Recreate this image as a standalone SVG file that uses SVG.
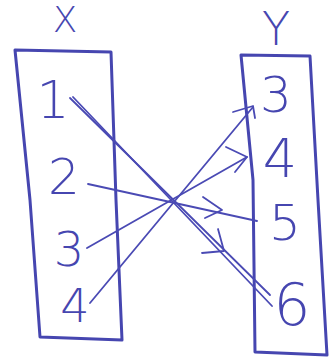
<svg xmlns="http://www.w3.org/2000/svg" width="330" height="359" viewBox="0 0 330 359">
<style>
.box{fill:none;stroke:#4646b0;stroke-width:3;stroke-linejoin:round;stroke-linecap:round}
.ln{fill:none;stroke:#4a4ab4;stroke-width:1.8;stroke-linecap:round;stroke-linejoin:round}
.t{font-family:"DejaVu Sans","Liberation Sans",sans-serif;font-weight:200;fill:#4646b0;text-anchor:middle}
</style>
<rect width="330" height="359" fill="#ffffff"/>
<g id="setX">
<path class="box" d="M15,50 L111,52 L116,200 L122,340 L40,337 L30,200 L15,50 Z"/>
<text class="t" x="65" y="32" font-size="36">X</text>
<text class="t" x="53" y="118" font-size="52">1</text>
<text class="t" x="64" y="194" font-size="50">2</text>
<text class="t" x="69" y="266" font-size="48">3</text>
<text class="t" x="75" y="322" font-size="46">4</text>
</g>
<g id="setY">
<path class="box" d="M241,55 L310,56 L318,200 L327,355 L255,352 L253,180 L241,55 Z"/>
<text class="t" x="276" y="45" font-size="46">Y</text>
<text class="t" x="276" y="112" font-size="50">3</text>
<text class="t" x="280" y="177" font-size="54">4</text>
<text class="t" x="285" y="240" font-size="50">5</text>
<text class="t" x="292" y="325" font-size="58">6</text>
</g>
<g id="connectors">
<line class="ln" x1="70" y1="98" x2="270" y2="295"/>
<line class="ln" x1="73" y1="97" x2="272" y2="306"/>
<polyline class="ln" points="218,229 224,251 202,253"/>
<line class="ln" x1="88" y1="184" x2="257" y2="221"/>
<polyline class="ln" points="203,197 222,210 205,218"/>
<line class="ln" x1="87" y1="248" x2="247" y2="157"/>
<polyline class="ln" points="226,147 247,157 235,172"/>
<line class="ln" x1="90" y1="303" x2="253" y2="107"/>
<polyline class="ln" points="233,112 253,106 255,118"/>
</g>
</svg>
